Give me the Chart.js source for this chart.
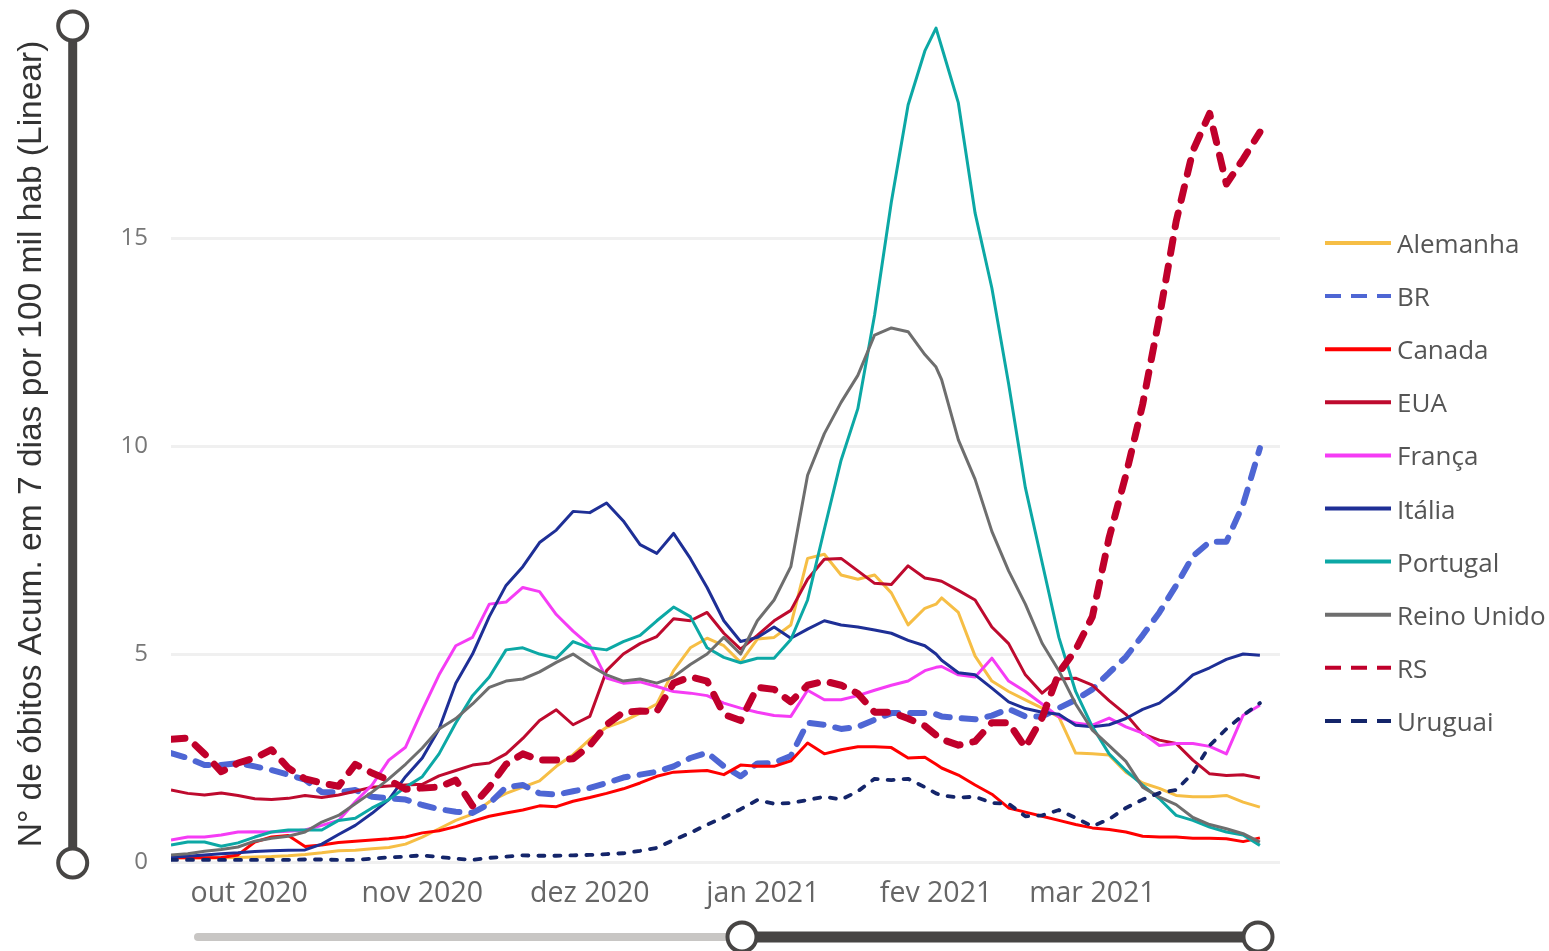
<!DOCTYPE html>
<html><head><meta charset="utf-8">
<script src="https://cdn.jsdelivr.net/npm/chart.js@4.4.1/dist/chart.umd.min.js"></script>
<style>html,body{margin:0;padding:0;background:#fff;overflow:hidden}#wrap{position:relative;width:1549px;height:951px}</style>
</head><body><div id="wrap"><canvas id="c" width="1549" height="951"></canvas></div>
<script>
const dates = [
'2020-09-17','2020-09-20','2020-09-23','2020-09-26','2020-09-29',
'2020-10-02','2020-10-05','2020-10-08','2020-10-11','2020-10-14','2020-10-17','2020-10-20','2020-10-23','2020-10-26','2020-10-29',
'2020-11-01','2020-11-04','2020-11-07','2020-11-10','2020-11-13','2020-11-16','2020-11-19','2020-11-22','2020-11-25','2020-11-28',
'2020-12-01','2020-12-04','2020-12-07','2020-12-10','2020-12-13','2020-12-16','2020-12-19','2020-12-22','2020-12-25','2020-12-28','2020-12-31',
'2021-01-03','2021-01-06','2021-01-09','2021-01-12','2021-01-15','2021-01-18','2021-01-21','2021-01-24','2021-01-27','2021-01-30','2021-02-01',
'2021-02-02','2021-02-05','2021-02-08','2021-02-11','2021-02-14','2021-02-17','2021-02-20','2021-02-23','2021-02-26',
'2021-03-01','2021-03-04','2021-03-07','2021-03-10','2021-03-13','2021-03-16','2021-03-19','2021-03-22','2021-03-25','2021-03-28','2021-03-31'
];
const monthTicks = ['2020-10-01','2020-11-01','2020-12-01','2021-01-01','2021-02-01','2021-03-01'];
const monthLabels = ['out 2020','nov 2020','dez 2020','jan 2021','fev 2021','mar 2021'];
const yTicks = [0, 5, 10, 15];

const alemanha = [
0.1,0.1,0.1,0.1,0.11,0.12,0.13,0.15,0.18,0.22,0.27,
0.28,0.32,0.35,0.43,0.6,0.8,1.0,1.15,1.45,1.65,1.8,
1.95,2.3,2.58,2.95,3.24,3.38,3.58,3.8,4.6,5.15,5.38,
5.2,4.8,5.36,5.4,5.7,7.3,7.4,6.9,6.8,6.9,6.47,
5.7,6.1,6.2,6.35,6.0,4.95,4.35,4.1,3.9,3.7,3.49,2.62,
2.6,2.57,2.16,1.9,1.77,1.6,1.57,1.57,1.6,1.44,1.32];
const br = [
2.62,2.5,2.33,2.33,2.38,2.3,2.21,2.1,1.98,1.68,1.68,
1.73,1.57,1.53,1.5,1.37,1.27,1.21,1.18,1.4,1.8,1.85,
1.65,1.62,1.7,1.78,1.9,2.03,2.1,2.17,2.3,2.5,2.63,
2.3,2.06,2.37,2.38,2.55,3.35,3.3,3.2,3.25,3.42,3.58,
3.58,3.58,3.55,3.5,3.46,3.43,3.52,3.68,3.5,3.5,3.7,3.9,
4.15,4.55,4.93,5.45,6.0,6.65,7.35,7.7,7.7,8.6,9.95];
const canada = [
0.1,0.1,0.1,0.11,0.17,0.48,0.6,0.64,0.37,0.41,0.47,
0.5,0.53,0.56,0.6,0.7,0.75,0.85,0.98,1.1,1.18,1.25,
1.35,1.33,1.46,1.55,1.65,1.76,1.9,2.06,2.16,2.18,2.2,
2.1,2.33,2.3,2.3,2.43,2.86,2.6,2.7,2.77,2.77,2.75,
2.5,2.52,2.35,2.26,2.09,1.85,1.63,1.3,1.2,1.1,1.0,0.9,
0.82,0.78,0.72,0.62,0.6,0.6,0.57,0.57,0.56,0.49,0.58];
const eua = [
1.73,1.65,1.61,1.66,1.6,1.52,1.5,1.53,1.6,1.55,1.61,
1.7,1.8,1.83,1.85,1.87,2.07,2.2,2.33,2.38,2.6,2.97,
3.4,3.66,3.3,3.5,4.6,5.0,5.25,5.42,5.85,5.8,6.0,
5.5,5.12,5.45,5.8,6.05,6.8,7.28,7.3,7.0,6.7,6.67,
7.12,6.83,6.78,6.75,6.53,6.3,5.65,5.25,4.5,4.06,4.4,4.42,
4.25,3.88,3.55,3.08,2.93,2.85,2.45,2.12,2.08,2.1,2.02];
const franca = [
0.53,0.6,0.6,0.65,0.72,0.73,0.72,0.74,0.77,0.88,1.0,
1.45,1.85,2.45,2.76,3.65,4.5,5.2,5.4,6.2,6.25,6.6,
6.5,5.95,5.55,5.2,4.42,4.3,4.33,4.22,4.1,4.06,4.0,
3.82,3.7,3.6,3.52,3.5,4.13,3.9,3.9,4.0,4.13,4.25,
4.35,4.6,4.68,4.7,4.5,4.45,4.9,4.35,4.1,3.8,3.49,3.34,
3.29,3.46,3.25,3.1,2.8,2.85,2.85,2.78,2.6,3.53,3.77];
const italia = [
0.12,0.14,0.17,0.2,0.22,0.25,0.27,0.28,0.29,0.43,0.66,
0.88,1.17,1.5,2.05,2.5,3.2,4.3,5.0,5.9,6.65,7.1,
7.68,7.98,8.43,8.4,8.63,8.2,7.63,7.42,7.9,7.3,6.6,
5.8,5.3,5.4,5.65,5.38,5.6,5.8,5.7,5.65,5.58,5.5,
5.33,5.2,5.0,4.85,4.55,4.5,4.18,3.85,3.69,3.6,3.55,3.29,
3.25,3.3,3.45,3.67,3.82,4.13,4.5,4.67,4.87,5.0,4.97];
const portugal = [
0.41,0.48,0.48,0.38,0.46,0.6,0.72,0.77,0.77,0.77,1.0,
1.05,1.3,1.5,1.8,2.05,2.6,3.34,4.0,4.45,5.1,5.15,
5.0,4.9,5.3,5.15,5.1,5.3,5.45,5.8,6.13,5.9,5.15,
4.92,4.79,4.9,4.9,5.35,6.3,8.0,9.66,10.9,13.15,15.87,
18.2,19.5,20.05,19.6,18.25,15.6,13.8,11.5,9.0,7.2,5.4,4.1,
3.25,2.6,2.2,1.85,1.52,1.12,1.0,0.84,0.72,0.65,0.4];
const reinoUnido = [
0.17,0.2,0.26,0.3,0.36,0.5,0.57,0.62,0.72,0.96,1.12,
1.4,1.68,2.0,2.35,2.74,3.2,3.45,3.8,4.2,4.35,4.4,
4.57,4.8,5.0,4.73,4.5,4.35,4.4,4.3,4.45,4.75,5.0,
5.4,5.0,5.8,6.3,7.1,9.3,10.3,11.05,11.7,12.67,12.84,
12.75,12.2,11.9,11.6,10.15,9.2,7.95,7.0,6.2,5.26,4.6,3.8,
3.17,2.8,2.42,1.8,1.56,1.38,1.07,0.9,0.8,0.68,0.48];
const rs = [
2.95,2.98,2.6,2.17,2.38,2.5,2.7,2.26,2.0,1.9,1.82,
2.35,2.14,1.97,1.75,1.78,1.8,1.97,1.35,1.8,2.35,2.6,
2.45,2.45,2.48,2.8,3.3,3.6,3.63,3.62,4.3,4.45,4.35,
3.55,3.4,4.2,4.15,3.85,4.25,4.35,4.25,4.05,3.6,3.6,
3.45,3.27,3.05,2.95,2.81,2.9,3.35,3.35,2.75,3.47,4.55,5.1,
5.9,7.8,9.3,11.0,13.1,15.4,17.1,18.0,16.3,16.9,17.55];
const uruguai = [
0.05,0.05,0.05,0.05,0.05,0.05,0.05,0.05,0.06,0.06,0.05,
0.05,0.08,0.11,0.13,0.16,0.12,0.08,0.05,0.1,0.13,0.16,
0.15,0.15,0.16,0.17,0.19,0.21,0.27,0.34,0.53,0.7,0.9,
1.07,1.27,1.49,1.4,1.42,1.49,1.57,1.5,1.7,2.0,1.97,
2.0,1.8,1.65,1.6,1.55,1.57,1.42,1.4,1.1,1.12,1.25,1.06,
0.86,1.03,1.3,1.5,1.66,1.73,2.14,2.8,3.2,3.53,3.82];

const seriesNames = ['Alemanha','BR','Canada','EUA','França','Itália','Portugal','Reino Unido','RS','Uruguai'];
const seriesValues = [alemanha, br, canada, eua, franca, italia, portugal, reinoUnido, rs, uruguai];
const seriesColors = ['#F6BE45','#4E66D4','#FF0000','#BE0A2E','#F53CF5','#1E2F96','#0CA8A5','#6E6E6E','#C0002B','#14256A'];
const seriesWidths = [3,6,3,3,3,3,3,3,7,3.8];
const seriesDash = [null,[14,12],null,null,null,null,null,null,[14,13],[6,10]];

const t0 = Date.parse(dates[0]);
const dayOf = s => Math.round((Date.parse(s) - t0) / 86400000);
const tickDays = monthTicks.map(dayOf);

const datasets = seriesNames.map((name, i) => ({
  label: name,
  data: dates.map((d, j) => ({x: dayOf(d), y: seriesValues[i][j]})),
  borderColor: seriesColors[i],
  backgroundColor: seriesColors[i],
  borderWidth: seriesWidths[i],
  borderDash: seriesDash[i] || [],
  borderCapStyle: seriesDash[i] ? 'round' : 'butt',
  borderJoinStyle: 'round',
  pointRadius: 0,
  pointHoverRadius: 0,
  fill: false,
  tension: 0,
  order: 9 - i
}));

const SL = '#474544';
function ring(ctx, x, y) {
  ctx.beginPath(); ctx.arc(x, y, 14.5, 0, Math.PI * 2);
  ctx.fillStyle = '#fff'; ctx.fill();
  ctx.lineWidth = 4; ctx.strokeStyle = SL; ctx.stroke();
}
const decor = {
  id: 'decor',
  afterDraw(chart) {
    const ctx = chart.ctx;
    ctx.save();
    ctx.strokeStyle = SL; ctx.lineWidth = 9; ctx.lineCap = 'butt';
    ctx.beginPath(); ctx.moveTo(72.7, 26); ctx.lineTo(72.7, 863); ctx.stroke();
    ring(ctx, 72.7, 26); ring(ctx, 72.7, 863);
    ctx.strokeStyle = '#C8C6C4'; ctx.lineWidth = 8; ctx.lineCap = 'round';
    ctx.beginPath(); ctx.moveTo(198, 937); ctx.lineTo(742, 937); ctx.stroke();
    ctx.strokeStyle = SL; ctx.lineWidth = 11; ctx.lineCap = 'butt';
    ctx.beginPath(); ctx.moveTo(742, 937); ctx.lineTo(1258, 937); ctx.stroke();
    ring(ctx, 742, 937); ring(ctx, 1258, 937);
    ctx.font = '26px "Open Sans", "Noto Sans", sans-serif';
    ctx.textAlign = 'left'; ctx.textBaseline = 'alphabetic';
    chart.data.datasets.forEach((ds, i) => {
      const y = 243 + i * 53.1;
      ctx.strokeStyle = ds.borderColor; ctx.lineWidth = 4; ctx.lineCap = 'butt';
      ctx.setLineDash(seriesDash[i] ? [16, 10] : []);
      ctx.beginPath(); ctx.moveTo(1325, y); ctx.lineTo(1391, y); ctx.stroke();
      ctx.setLineDash([]);
      ctx.fillStyle = '#555555';
      ctx.fillText(ds.label, 1397, y + 10);
    });
    ctx.restore();
  }
};

new Chart(document.getElementById('c'), {
  type: 'line',
  data: { datasets },
  plugins: [decor],
  options: {
    responsive: false,
    animation: false,
    devicePixelRatio: 1,
    layout: { padding: { top: 26, right: 269, bottom: 0, left: 0 } },
    plugins: { legend: { display: false }, tooltip: { enabled: false } },
    scales: {
      x: {
        type: 'linear', min: 0, max: 198.6,
        grid: { display: false }, border: { display: false },
        afterBuildTicks: s => { s.ticks = tickDays.map(v => ({ value: v })); },
        afterFit: s => { s.height = 89; s.paddingLeft = 0; s.paddingRight = 0; },
        ticks: {
          autoSkip: false, maxRotation: 0, minRotation: 0, padding: 7, color: '#666666',
          font: { family: '"Open Sans", "Noto Sans", sans-serif', size: 28.5 },
          callback: v => monthLabels[tickDays.indexOf(Math.round(v))]
        }
      },
      y: {
        min: 0, max: 20.1,
        afterBuildTicks: s => { s.ticks = yTicks.map(v => ({ value: v })); },
        afterFit: s => { s.width = 171; s.paddingTop = 0; s.paddingBottom = 0; },
        grid: { color: '#F0F0F0', lineWidth: 3, drawTicks: false },
        border: { display: false },
        ticks: { padding: 23, color: '#777777', font: { family: '"Open Sans", "Noto Sans", sans-serif', size: 24 } },
        title: {
          display: true, text: 'N° de óbitos Acum. em 7 dias por 100 mil hab (Linear)',
          color: '#333333', font: { family: '"Liberation Sans", Arial, sans-serif', size: 33.5 },
          padding: { top: 12, bottom: 0 }
        }
      }
    }
  }
});
</script></body></html>
